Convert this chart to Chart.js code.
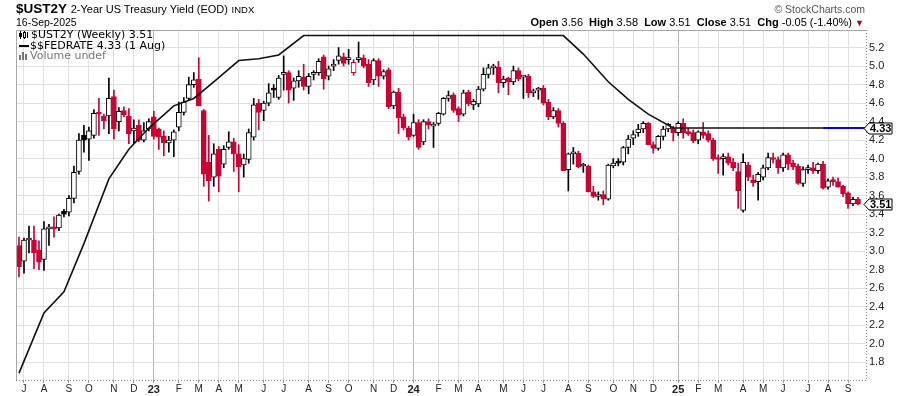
<!DOCTYPE html>
<html>
<head>
<meta charset="utf-8">
<script src="https://cdn.jsdelivr.net/npm/chart.js@4.4.1/dist/chart.umd.min.js"></script>
<style>
  body { margin: 0; background: #fff; }
  #wrap { position: relative; width: 900px; height: 396px; font-family: Arial, "Liberation Sans", sans-serif; color: #000; }
  #c { position: absolute; left: 0; top: 0; }
  .abs { position: absolute; white-space: nowrap; }
  .title { left: 16px; top: 2px; font-size: 13px; line-height: 13px; }
  .title b { font-size: 13.5px; }
  .title .sub { font-size: 11px; }
  .title .indx { font-size: 9.5px; }
  .date { left: 16px; top: 17px; font-size: 10.5px; line-height: 10.5px; }
  .copy { right: 35px; top: 4px; font-size: 10.5px; line-height: 10.5px; color: #555; }
  .ohlc { right: 36px; top: 17px; font-size: 11px; line-height: 11px; }
  .ohlc .dn { color: #a0002a; font-size: 9px; }
  .lg { left: 30px; font-family: "DejaVu Sans", sans-serif; font-size: 11px; line-height: 11px; }
  .lg.gray { color: #777; }
  .ico { position: absolute; }
</style>
</head>
<body>
<div id="wrap">
  <canvas id="c" width="900" height="396"></canvas>
  <div class="abs title"><b>$UST2Y</b> <span class="sub">2-Year US Treasury Yield (EOD)</span> <span class="indx">INDX</span></div>
  <div class="abs date">16-Sep-2025</div>
  <div class="abs copy">© StockCharts.com</div>
  <div class="abs ohlc"><b>Open</b> 3.56 &nbsp;<b>High</b> 3.58 &nbsp;<b>Low</b> 3.51 &nbsp;<b>Close</b> 3.51 &nbsp;<b>Chg</b> -0.05 (-1.40%) <span class="dn">▼</span></div>
  <div class="abs lg" style="top:29px; left:31px">$UST2Y (Weekly) 3.51</div>
  <div class="abs lg" style="top:40px">$$FEDRATE 4.33 (1 Aug)</div>
  <div class="abs lg gray" style="top:50px">Volume undef</div>
  <div class="ico" style="left:20px; top:31px; width:1px; height:8px; background:#000"></div>
  <div class="ico" style="left:19px; top:33px; width:3px; height:4px; background:#000"></div>
  <div class="ico" style="left:24px; top:31px; width:1px; height:8px; background:#000"></div>
  <div class="ico" style="left:23px; top:32px; width:1px; height:4px; border:1px solid #000; background:#fff"></div>
  <div class="ico" style="left:27px; top:32px; width:1px; height:6px; background:#000"></div>
  <div class="ico" style="left:19px; top:45px; width:10px; height:2px; background:#000"></div>
  <div class="ico" style="left:19px; top:55px; width:2px; height:5px; background:#777"></div>
  <div class="ico" style="left:22px; top:52px; width:2px; height:8px; background:#777"></div>
  <div class="ico" style="left:25px; top:54px; width:2px; height:6px; background:#777"></div>
</div>
<script>
// Weekly candles, first week starts Mon 27-Jun-2022
const firstWeek = Date.UTC(2022, 5, 27);
const DAY = 86400000;

const open = [
  3.06, 2.89, 3.12, 3.12, 3.01, 2.91, 3.24, 3.25, 3.25, 3.43,
  3.42, 3.57, 3.86, 4.25, 4.21, 4.25, 4.49, 4.46, 4.46, 4.67,
  4.40, 4.52, 4.46, 4.30, 4.36, 4.20, 4.32, 4.45, 4.32, 4.24,
  4.17, 4.20, 4.34, 4.50, 4.65, 4.80, 4.86, 4.52, 3.96, 3.80,
  4.10, 3.94, 4.12, 4.18, 4.05, 3.93, 3.99, 4.23, 4.60, 4.52,
  4.60, 4.75, 4.66, 4.91, 4.93, 4.76, 4.84, 4.88, 4.78, 4.91,
  4.93, 5.10, 4.89, 5.00, 5.06, 5.10, 5.07, 4.93, 5.07, 5.09,
  5.02, 4.85, 5.06, 4.89, 4.96, 4.57, 4.72, 4.45, 4.33, 4.25,
  4.39, 4.18, 4.40, 4.35, 4.38, 4.48, 4.65, 4.69, 4.54, 4.48,
  4.72, 4.58, 4.59, 4.75, 4.91, 4.98, 4.99, 4.82, 4.87, 4.83,
  4.95, 4.88, 4.89, 4.71, 4.74, 4.76, 4.61, 4.45, 4.52, 4.38,
  3.88, 4.05, 4.06, 3.92, 3.92, 3.64, 3.59, 3.61, 3.56, 3.92,
  3.96, 3.96, 4.12, 4.22, 4.28, 4.32, 4.38, 4.15, 4.11, 4.24,
  4.32, 4.33, 4.28, 4.38, 4.29, 4.28, 4.20, 4.29, 4.27, 4.20,
  4.01, 4.00, 4.02, 3.96, 3.86, 3.44, 3.93, 3.77, 3.75, 3.80,
  3.90, 4.01, 3.99, 3.90, 4.04, 3.95, 3.92, 3.73, 3.88, 3.90,
  3.87, 3.94, 3.69, 3.77, 3.75, 3.70, 3.63, 3.51, 3.56
];
const high = [
  3.15, 3.14, 3.27, 3.27, 3.11, 3.32, 3.29, 3.37, 3.40, 3.45,
  3.60, 3.92, 4.27, 4.36, 4.34, 4.53, 4.65, 4.48, 4.87, 4.74,
  4.55, 4.56, 4.54, 4.42, 4.42, 4.39, 4.43, 4.51, 4.33, 4.30,
  4.24, 4.31, 4.61, 4.66, 4.88, 4.93, 5.09, 4.53, 4.25, 4.16,
  4.13, 4.14, 4.29, 4.22, 4.15, 4.05, 4.32, 4.65, 4.64, 4.62,
  4.81, 4.80, 4.90, 5.11, 4.95, 4.87, 4.95, 5.02, 4.92, 4.95,
  5.08, 5.12, 5.00, 5.07, 5.20, 5.14, 5.18, 5.07, 5.26, 5.12,
  5.07, 5.08, 5.08, 4.96, 4.98, 4.73, 4.76, 4.48, 4.35, 4.48,
  4.42, 4.42, 4.43, 4.39, 4.50, 4.66, 4.73, 4.71, 4.56, 4.74,
  4.74, 4.64, 4.78, 4.98, 5.02, 5.02, 5.05, 4.89, 4.88, 5.00,
  4.98, 4.89, 4.91, 4.75, 4.77, 4.79, 4.64, 4.55, 4.54, 4.40,
  4.06, 4.12, 4.08, 3.95, 3.93, 3.70, 3.64, 3.65, 3.94, 4.00,
  4.00, 4.13, 4.25, 4.30, 4.37, 4.40, 4.39, 4.18, 4.25, 4.35,
  4.38, 4.35, 4.40, 4.43, 4.33, 4.31, 4.30, 4.39, 4.30, 4.22,
  4.04, 4.05, 4.06, 4.00, 3.95, 4.05, 3.96, 3.82, 3.85, 3.93,
  4.06, 4.06, 4.02, 4.06, 4.06, 3.98, 3.94, 3.91, 3.93, 3.96,
  3.95, 3.97, 3.78, 3.80, 3.79, 3.71, 3.64, 3.58, 3.58
];
const low = [
  2.72, 2.76, 2.98, 2.81, 2.80, 2.79, 3.06, 3.15, 3.22, 3.37,
  3.38, 3.52, 3.83, 4.07, 3.98, 4.22, 4.25, 4.32, 4.27, 4.21,
  4.30, 4.45, 4.16, 4.16, 4.18, 4.18, 4.30, 4.21, 4.10, 4.03,
  4.07, 4.02, 4.30, 4.47, 4.63, 4.77, 4.57, 3.70, 3.54, 3.70,
  3.64, 3.90, 4.10, 3.86, 3.64, 3.80, 3.95, 4.20, 4.31, 4.41,
  4.57, 4.66, 4.64, 4.74, 4.60, 4.63, 4.77, 4.74, 4.70, 4.85,
  4.90, 4.75, 4.85, 4.95, 5.02, 5.00, 5.02, 4.90, 5.04, 4.98,
  4.78, 4.80, 4.78, 4.86, 4.54, 4.54, 4.27, 4.31, 4.20, 4.24,
  4.10, 4.15, 4.32, 4.12, 4.36, 4.47, 4.62, 4.50, 4.40, 4.46,
  4.57, 4.53, 4.56, 4.73, 4.87, 4.91, 4.71, 4.77, 4.69, 4.80,
  4.84, 4.65, 4.66, 4.67, 4.64, 4.58, 4.42, 4.43, 4.34, 3.87,
  3.65, 3.94, 3.90, 3.85, 3.64, 3.58, 3.55, 3.50, 3.55, 3.90,
  3.92, 3.93, 4.05, 4.15, 4.24, 4.28, 4.15, 4.06, 4.09, 4.20,
  4.29, 4.19, 4.25, 4.22, 4.25, 4.17, 4.16, 4.22, 4.18, 3.98,
  3.84, 3.82, 3.93, 3.87, 3.46, 3.42, 3.76, 3.70, 3.55, 3.77,
  3.88, 3.95, 3.84, 3.86, 3.88, 3.88, 3.72, 3.70, 3.84, 3.84,
  3.84, 3.67, 3.67, 3.71, 3.69, 3.59, 3.46, 3.49, 3.50
];
const close = [
  2.83, 3.12, 3.12, 2.98, 2.88, 3.24, 3.25, 3.24, 3.39, 3.40,
  3.57, 3.85, 4.20, 4.20, 4.30, 4.49, 4.48, 4.41, 4.65, 4.32,
  4.51, 4.47, 4.27, 4.33, 4.20, 4.30, 4.40, 4.24, 4.23, 4.17,
  4.20, 4.29, 4.50, 4.61, 4.80, 4.85, 4.57, 3.83, 3.76, 4.05,
  3.81, 4.10, 4.18, 4.05, 3.91, 4.00, 4.28, 4.58, 4.50, 4.60,
  4.71, 4.74, 4.87, 4.93, 4.74, 4.84, 4.89, 4.78, 4.89, 4.92,
  5.05, 4.86, 4.97, 5.02, 5.11, 5.03, 5.07, 5.04, 5.07, 5.00,
  4.82, 5.06, 4.89, 4.94, 4.56, 4.72, 4.44, 4.33, 4.23, 4.39,
  4.12, 4.40, 4.36, 4.36, 4.49, 4.65, 4.68, 4.52, 4.47, 4.71,
  4.59, 4.62, 4.75, 4.91, 4.98, 4.99, 4.82, 4.86, 4.83, 4.95,
  4.86, 4.88, 4.71, 4.73, 4.75, 4.60, 4.45, 4.52, 4.38, 3.87,
  4.05, 4.06, 3.91, 3.92, 3.64, 3.59, 3.61, 3.56, 3.93, 3.95,
  3.95, 4.12, 4.21, 4.26, 4.32, 4.38, 4.15, 4.11, 4.24, 4.32,
  4.37, 4.28, 4.38, 4.28, 4.27, 4.19, 4.29, 4.25, 4.20, 4.00,
  3.99, 4.02, 3.95, 3.90, 3.65, 3.96, 3.80, 3.74, 3.83, 3.90,
  4.01, 3.99, 3.90, 4.04, 3.94, 3.91, 3.73, 3.88, 3.90, 3.87,
  3.94, 3.68, 3.76, 3.75, 3.69, 3.62, 3.51, 3.56, 3.51
];

// $$FEDRATE monthly values, Jul-2022 .. Aug-2025
const fedStart = [2022, 6];
const fedRate = [
  1.68, 2.33, 2.56, 3.08, 3.78, 4.10,
  4.33, 4.57, 4.65, 4.83, 5.06, 5.08, 5.12, 5.33, 5.33, 5.33, 5.33, 5.33,
  5.33, 5.33, 5.33, 5.33, 5.33, 5.33, 5.33, 5.33, 5.13, 4.83, 4.64, 4.48,
  4.33, 4.33, 4.33, 4.33, 4.33, 4.33, 4.33, 4.33
];

const yTicks = [1.8, 2.0, 2.2, 2.4, 2.6, 2.8, 3.0, 3.2, 3.4, 3.6, 3.8, 4.0, 4.2, 4.4, 4.6, 4.8, 5.0, 5.2];
const monthLetters = ['J', 'F', 'M', 'A', 'M', 'J', 'J', 'A', 'S', 'O', 'N', 'D'];

const X_MIN = -0.6, X_MAX = 169.6;
const RED = '#cc0033', BLACK = '#000000';

// week index that contains a date
function weekOf(y, m, d) { return Math.floor((Date.UTC(y, m, d) - firstWeek) / (7 * DAY)); }

// month ticks sit on the first weekly bar dated in that month
const monthTicks = [];
for (let y = 2022, m = 6; y < 2025 || m <= 8; ) {
  const idx = Math.ceil((Date.UTC(y, m, 1) - firstWeek) / (7 * DAY));
  monthTicks.push({ value: idx, label: m === 0 ? String(y % 100) : monthLetters[m], year: m === 0 });
  m++; if (m > 11) { m = 0; y++; }
}
const tickInfo = {};
monthTicks.forEach(t => { tickInfo[t.value] = t; });
const isYear = ctx => !!(ctx.tick && tickInfo[ctx.tick.value] && tickInfo[ctx.tick.value].year);

const colors = close.map((c, i) => (i > 0 ? c < close[i - 1] : c < open[i]) ? RED : BLACK);
const filled = close.map((c, i) => c < open[i]);

const wickData = high.map((h, i) => ({ x: i, y: [low[i], h] }));
const bodyData = open.map((o, i) => ({ x: i, y: [Math.min(o, close[i]), Math.max(o, close[i])] }));

const fedData = fedRate.map((v, k) => {
  const y = fedStart[0] + Math.floor((fedStart[1] + k) / 12);
  const m = (fedStart[1] + k) % 12;
  return { x: weekOf(y, m, 1), y: v };
});
const lastFed = fedData[fedData.length - 1];
const fedExt = [{ x: lastFed.x, y: lastFed.y }, { x: X_MAX, y: lastFed.y }];

// plot frame, dotted axes and the price tags on the right axis
const framePlugin = {
  id: 'frame',
  afterDraw(chart) {
    const ctx = chart.ctx, ca = chart.chartArea, ys = chart.scales.y;
    ctx.save();
    ctx.lineWidth = 1;
    ctx.strokeStyle = '#a8a8a8';
    ctx.beginPath();
    ctx.moveTo(ca.left + 0.5, ca.bottom);
    ctx.lineTo(ca.left + 0.5, ca.top + 0.5);
    ctx.lineTo(ca.right, ca.top + 0.5);
    ctx.stroke();
    ctx.strokeStyle = '#8a8a8a';
    ctx.setLineDash([1, 2]);
    ctx.beginPath();
    ctx.moveTo(ca.left, ca.bottom + 0.5);
    ctx.lineTo(ca.right, ca.bottom + 0.5);
    ctx.moveTo(ca.right + 0.5, ca.top);
    ctx.lineTo(ca.right + 0.5, ca.bottom);
    ctx.stroke();
    ctx.setLineDash([]);

    const tags = [lastFed.y, close[close.length - 1]];
    tags.forEach(v => {
      const y = Math.round(ys.getPixelForValue(v)) + 0.5;
      const x = ca.right - 2;
      ctx.beginPath();
      ctx.moveTo(x, y);
      ctx.lineTo(x + 5, y - 5.5);
      ctx.lineTo(x + 28, y - 5.5);
      ctx.lineTo(x + 28, y + 5.5);
      ctx.lineTo(x + 5, y + 5.5);
      ctx.closePath();
      ctx.fillStyle = '#fff';
      ctx.fill();
      ctx.strokeStyle = '#000';
      ctx.stroke();
      ctx.fillStyle = '#000';
      ctx.font = 'bold 11px Arial, "Liberation Sans", sans-serif';
      ctx.textBaseline = 'middle';
      ctx.textAlign = 'left';
      ctx.fillText(v.toFixed(2), x + 6, y + 0.5);
    });
    ctx.restore();
  }
};

new Chart(document.getElementById('c'), {
  type: 'bar',
  data: {
    datasets: [
      {
        type: 'line',
        data: fedData,
        borderColor: '#111',
        borderWidth: 1.6,
        pointRadius: 0,
        tension: 0,
        order: 0
      },
      {
        type: 'line',
        data: fedExt,
        borderColor: '#0000ee',
        borderWidth: 2,
        pointRadius: 0,
        order: 0
      },
      {
        data: wickData,
        backgroundColor: colors,
        borderWidth: 0,
        barThickness: 1,
        grouped: false,
        order: 2
      },
      {
        data: bodyData,
        backgroundColor: colors.map((c, i) => filled[i] ? c : '#ffffff'),
        borderColor: colors,
        borderWidth: 1,
        borderSkipped: false,
        barThickness: 5,
        minBarLength: 2,
        grouped: false,
        order: 1
      }
    ]
  },
  options: {
    responsive: false,
    animation: false,
    devicePixelRatio: 1,
    layout: { padding: { left: 16, top: 30, right: 0, bottom: 0 } },
    plugins: { legend: { display: false }, tooltip: { enabled: false } },
    scales: {
      x: {
        type: 'linear',
        min: X_MIN,
        max: X_MAX,
        offset: false,
        afterBuildTicks: s => { s.ticks = monthTicks.map(t => ({ value: t.value })); },
        afterFit: s => { s.height = 16; },
        grid: {
          offset: false,
          color: ctx => isYear(ctx) ? '#b4b4b4' : '#e0e0e0',
          tickLength: 3,
          tickColor: '#999'
        },
        border: { display: false },
        ticks: {
          autoSkip: false,
          maxRotation: 0,
          padding: 0,
          color: '#222',
          font: ctx => ({
            family: 'Arial, "Liberation Sans", sans-serif',
            size: isYear(ctx) ? 11 : 10,
            weight: isYear(ctx) ? 'bold' : 'normal'
          }),
          callback: v => tickInfo[v] ? tickInfo[v].label : ''
        }
      },
      y: {
        position: 'right',
        min: 1.606,
        max: 5.39,
        afterBuildTicks: s => { s.ticks = yTicks.map(v => ({ value: v })); },
        afterFit: s => { s.width = 34; },
        grid: { color: '#e0e0e0', drawTicks: false },
        border: { display: false },
        ticks: {
          padding: 3,
          color: '#222',
          font: { family: 'Arial, "Liberation Sans", sans-serif', size: 11 },
          callback: v => v.toFixed(1)
        }
      }
    }
  },
  plugins: [framePlugin]
});
</script>
</body>
</html>
